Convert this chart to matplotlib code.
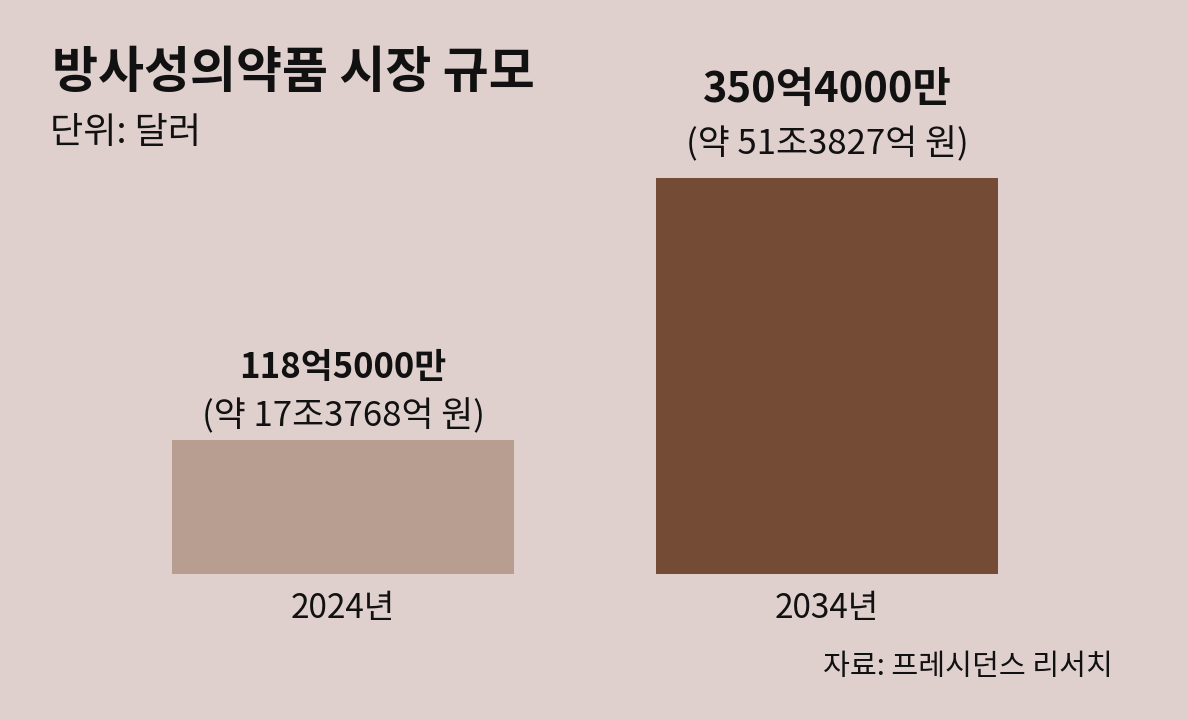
import matplotlib.pyplot as plt

plt.rcParams['font.family'] = ['Noto Sans CJK KR', 'DejaVu Sans']

# 데이터 (억 달러)
years = ['2024년', '2034년']
values = [118.5, 350.4]
value_labels = ['118억5000만', '350억4000만']
krw_labels = ['(약 17조3768억 원)', '(약 51조3827억 원)']
bar_colors = ['#b89e91', '#744c36']

bg = '#dfd0ce'
W, H = 1188, 720
fig = plt.figure(figsize=(W / 100, H / 100), dpi=100, facecolor=bg)

# 축: 막대 바닥이 y=574px 위치
ax = fig.add_axes([0, (H - 574) / H, 1, 574 / H])
ax.set_facecolor('none')
px_per_unit = 396 / 350.4
ax.set_ylim(0, 574 / px_per_unit)
ax.set_xlim(-343 / 484, (W - 343) / 484)

x = [0, 1]
ax.bar(x, values, width=342 / 484, color=bar_colors)

weights = ['bold', 'heavy']
sizes = [25, 30]
off_big = [52, 63]
off_small = [17, 24]
for i in range(2):
    ax.annotate(value_labels[i], (x[i], values[i]), xytext=(0, off_big[i]), textcoords='offset points',
                ha='center', va='center', fontsize=sizes[i], fontweight=weights[i], color='#111111')
    ax.annotate(krw_labels[i], (x[i], values[i]), xytext=(0, off_small[i]), textcoords='offset points',
                ha='center', va='center', fontsize=25, color='#111111')

ax.set_xticks(x)
ax.set_xticklabels(years, fontsize=24, color='#111111')
ax.tick_params(axis='x', length=0, pad=12)
ax.set_yticks([])
for s in ax.spines.values():
    s.set_visible(False)

fig.text(52 / W, 1 - 73 / H, '방사성의약품 시장 규모', fontsize=36, fontweight='bold',
         ha='left', va='center', color='#111111')
fig.text(50 / W, 1 - 133 / H, '단위: 달러', fontsize=26, ha='left', va='center', color='#111111')
fig.text(1113 / W, 1 - 667 / H, '자료: 프레시던스 리서치', fontsize=21, ha='right', va='center',
         color='#111111')

fig.savefig('out.png', dpi=100, facecolor=bg)
